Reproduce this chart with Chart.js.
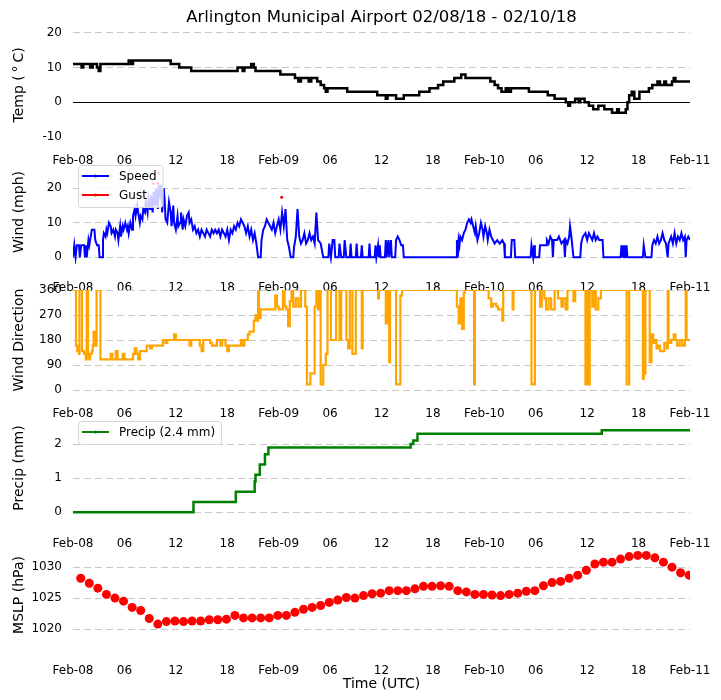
<!DOCTYPE html>
<html>
<head>
<meta charset="utf-8">
<script src="https://cdn.jsdelivr.net/npm/chart.js@4.4.1/dist/chart.umd.min.js"></script>
<style>
  body { margin: 0; background: #fff; width: 721px; height: 700px; overflow: hidden; position: relative; }
  canvas { position: absolute; left: 0; }
</style>
</head>
<body>
<canvas id="tempChart" width="721" height="165" style="top:0px"></canvas>
<canvas id="windChart" width="721" height="152" style="top:140px"></canvas>
<canvas id="dirChart" width="721" height="148" style="top:270px"></canvas>
<canvas id="precipChart" width="721" height="152" style="top:396px"></canvas>
<canvas id="mslpChart" width="721" height="174" style="top:523px"></canvas>
<script>
// x axis: hours since Feb-08 00 UTC
const tickHours = [0, 6, 12, 18, 24, 30, 36, 42, 48, 54, 60, 66, 72];
const tickLabels = ['Feb-08', '06', '12', '18', 'Feb-09', '06', '12', '18', 'Feb-10', '06', '12', '18', 'Feb-11'];

const titleText = 'Arlington Municipal Airport 02/08/18 - 02/10/18';

// temperature (deg C), value holds from each hour until the next one
const tempHours = [0, 1.0, 1.2, 2.0, 2.3, 2.8, 3.0, 3.2, 6.5, 6.8,
  7.0, 11.4, 12.4, 13.8, 19.2, 19.8, 20.0, 20.8, 21.1, 21.3,
  24.2, 25.9, 26.3, 26.6, 27.5, 27.8, 28.5, 28.9, 29.3, 29.5,
  29.7, 32.0, 35.5, 36.5, 36.7, 37.7, 38.6, 40.4, 41.6, 42.6,
  43.2, 44.5, 45.3, 45.8, 48.7, 49.2, 49.6, 50.0, 50.5, 50.8,
  51.1, 53.2, 55.4, 56.2, 57.5, 57.8, 58.0, 58.6, 59.0, 59.2,
  59.7, 60.2, 60.7, 61.3, 62.0, 62.9, 63.5, 63.7, 64.5, 64.7,
  64.9, 65.2, 65.5, 66.1, 67.2, 67.6, 68.2, 68.5, 69.0, 69.2,
  69.9, 70.1, 70.3, 72];
const tempValues = [11, 10, 11, 10, 11, 10, 9, 11, 12, 11,
  12, 11, 10, 9, 10, 9, 10, 11, 10, 9,
  8, 7, 6, 7, 6, 7, 6, 5, 4, 3,
  4, 3, 2, 1, 2, 1, 2, 3, 4, 5,
  6, 7, 8, 7, 6, 5, 4, 3, 4, 3,
  4, 3, 2, 1, 0, -1, 0, 1, 0, 1,
  0, -1, -2, -1, -2, -3, -2, -3, -2, 0,
  2, 3, 1, 3, 4, 5, 6, 5, 6, 5,
  6, 7, 6, 6];

// wind speed (mph)
const windHours = [0.0, 0.15, 0.3, 0.45, 0.7, 0.8, 0.95, 1.3, 1.4, 1.5,
  1.6, 1.8, 1.9, 2.0, 2.2, 2.5, 2.6, 2.8, 3.0, 3.1,
  3.4, 3.5, 3.6, 3.8, 3.9, 4.0, 4.2, 4.4, 4.5, 4.7,
  4.9, 5.0, 5.2, 5.3, 5.5, 5.6, 5.8, 5.9, 6.1, 6.3,
  6.4, 6.5, 6.7, 6.9, 7.0, 7.2, 7.3, 7.5, 7.6, 7.8,
  7.9, 8.1, 8.2, 8.4, 8.5, 8.7, 8.8, 9.0, 9.1, 9.3,
  9.4, 9.6, 9.7, 9.9, 10.0, 10.1, 10.3, 10.4, 10.6, 10.7,
  10.8, 11.0, 11.2, 11.4, 11.5, 11.7, 11.8, 12.0, 12.2, 12.3,
  12.5, 12.6, 12.8, 12.9, 13.1, 13.3, 13.5, 13.6, 13.8, 14.0,
  14.2, 14.4, 14.6, 14.8, 15.0, 15.2, 15.4, 15.6, 15.8, 16.0,
  16.2, 16.4, 16.6, 16.8, 17.0, 17.2, 17.4, 17.6, 17.8, 18.0,
  18.2, 18.4, 18.6, 18.8, 19.0, 19.2, 19.4, 19.6, 19.8, 20.0,
  20.2, 20.4, 20.6, 20.8, 21.0, 21.2, 21.4, 21.6, 21.9, 22.0,
  22.2, 22.4, 22.6, 22.8, 23.0, 23.2, 23.4, 23.6, 23.8, 24.0,
  24.2, 24.4, 24.6, 24.8, 25.0, 25.2, 25.4, 25.7, 25.8, 26.0,
  26.2, 26.4, 26.6, 26.8, 27.0, 27.2, 27.4, 27.6, 27.8, 28.0,
  28.2, 28.4, 28.6, 28.9, 29.2, 29.8, 29.9, 30.1, 30.3, 30.5,
  30.6, 31.0, 31.1, 31.3, 31.6, 31.7, 31.9, 32.3, 32.4, 32.5,
  33.0, 33.1, 33.2, 33.6, 33.7, 33.8, 34.5, 34.6, 34.7, 35.2,
  35.3, 35.4, 35.6, 35.7, 35.8, 35.9, 36.4, 36.5, 36.6, 36.8,
  36.9, 37.1, 37.2, 37.6, 37.7, 37.9, 38.1, 38.3, 38.5, 38.6,
  44.7, 44.8, 44.9, 45.0, 45.1, 45.2, 45.4, 45.6, 45.8, 46.0,
  46.2, 46.4, 46.5, 46.7, 46.9, 47.0, 47.2, 47.4, 47.6, 47.8,
  47.9, 48.1, 48.3, 48.4, 48.6, 48.8, 49.0, 49.2, 49.5, 49.8,
  50.1, 50.3, 50.4, 51.1, 51.2, 51.5, 51.6, 53.4, 53.5, 53.7,
  53.8, 53.9, 54.4, 54.5, 55.2, 55.3, 55.5, 55.7, 55.9, 56.0,
  56.1, 56.5, 56.7, 57.0, 57.3, 57.4, 57.5, 57.7, 57.9, 58.0,
  58.2, 58.4, 59.2, 59.3, 59.5, 59.8, 60.0, 60.2, 60.4, 60.6,
  60.8, 61.0, 61.2, 61.4, 61.8, 61.9, 63.9, 64.0, 64.1, 64.2,
  64.3, 64.4, 64.5, 64.6, 64.7, 66.5, 66.6, 66.8, 67.5, 67.6,
  67.8, 68.0, 68.2, 68.4, 68.6, 68.8, 69.0, 69.2, 69.4, 69.5,
  69.8, 70.0, 70.2, 70.4, 70.6, 70.8, 71.0, 71.2, 71.4, 71.5,
  71.6, 71.8, 72.0];
const windSpeed = [0, 3.5, 0, 3.5, 3.5, 0, 3.5, 3.5, 0, 3.5,
  0, 5, 3.5, 5, 8, 8, 5, 3.5, 3.5, 0,
  0, 5, 7, 6, 8, 7, 10, 9, 7, 8,
  6, 8, 7, 5, 9, 6, 9, 8, 10, 8,
  9, 7, 10, 8, 12, 14, 12, 15, 13, 10,
  12, 11, 14, 13, 16, 13, 17, 14, 18, 13,
  19, 15, 20, 14, 21, 17, 21, 13, 20, 16,
  11, 10, 16, 13, 9, 15, 10, 8, 12, 9,
  10, 13, 8, 11, 9, 12, 13, 10, 11, 8,
  9, 7, 8, 6, 8, 7, 6, 8, 7, 6,
  8, 7, 8, 7, 8, 6, 8, 7, 6, 8,
  5, 8, 7, 9, 8, 10, 9, 11, 10, 9,
  7, 9, 6, 8, 5, 7, 4, 0, 0, 5,
  8, 9, 11, 10, 9, 8, 10, 7, 9, 11,
  8, 13, 9, 14, 5, 3, 0, 0, 3, 6,
  14, 6, 4, 5, 7, 4, 5, 7, 5, 6,
  4, 13, 5, 4, 0, 0, 4, 0, 5, 5,
  0, 0, 4, 0, 0, 5, 0, 0, 4, 0,
  0, 4, 0, 0, 3.5, 0, 0, 4, 0, 0,
  3.5, 0, 3.5, 0, 3.5, 0, 0, 5, 0, 5,
  0, 5, 0, 0, 5, 6, 5, 3.5, 3.5, 0,
  0, 5, 0, 5, 3.5, 6, 5, 7, 8, 10,
  11, 10, 11, 9, 7, 9, 5, 7, 10, 8,
  6, 9, 7, 5, 8, 6, 5, 4, 5, 4,
  5, 4, 0, 0, 5, 5, 0, 0, 3.5, 0,
  3.5, 0, 0, 3.5, 3.5, 5, 4, 6, 5, 0,
  5, 5, 6, 4, 5, 0, 5, 4, 6, 9,
  5, 0, 0, 4, 6, 7, 5, 7, 6, 5,
  7, 5, 6, 5, 5, 0, 0, 3.5, 0, 3.5,
  0, 3.5, 0, 3.5, 0, 0, 3.5, 0, 0, 3.5,
  5, 4, 6, 4, 5, 7, 5, 4, 0, 4,
  6, 4, 7, 4, 6, 5, 7, 5, 6, 0,
  5, 6, 5];

// wind gusts (mph)
const gustHours = [9.37, 9.88, 10.0, 24.35];
const gustSpeed = [21.4, 21.4, 24.3, 17.4];

// wind direction (degrees)
const dirHours = [0.0, 0.3, 0.35, 0.5, 0.7, 0.75, 1.0, 1.05, 1.3, 1.5,
  1.6, 1.7, 1.75, 1.9, 2.0, 2.2, 2.3, 2.4, 2.5, 2.6,
  2.75, 3.1, 3.2, 4.3, 4.4, 4.6, 5.0, 5.2, 5.8, 6.0,
  6.8, 7.0, 7.2, 7.4, 7.6, 7.8, 8.4, 8.6, 9.0, 9.2,
  10.4, 10.5, 10.8, 11.0, 11.6, 11.8, 12.0, 13.4, 13.6, 13.8,
  14.6, 14.8, 15.0, 15.2, 16.0, 16.2, 16.8, 17.2, 17.4, 17.8,
  18.0, 18.2, 19.4, 19.6, 19.8, 20.0, 20.2, 20.4, 20.6, 21.0,
  21.1, 21.3, 21.5, 21.6, 21.7, 21.9, 23.4, 23.6, 23.8, 24.0,
  24.3, 24.5, 24.7, 24.9, 25.1, 25.3, 25.5, 25.7, 26.0, 26.3,
  26.6, 27.0, 27.1, 27.3, 27.6, 27.7, 28.0, 28.2, 28.4, 28.6,
  28.8, 28.9, 29.1, 29.2, 29.5, 29.7, 30.0, 30.1, 30.6, 30.7,
  31.0, 31.1, 31.3, 31.8, 31.9, 32.1, 32.3, 32.5, 32.6, 32.9,
  33.0, 33.6, 33.7, 33.8, 35.5, 35.6, 35.7, 36.4, 36.5, 36.7,
  36.9, 37.0, 37.6, 37.7, 38.1, 38.2, 38.4, 44.7, 44.8, 45.0,
  45.2, 45.4, 45.6, 45.7, 46.7, 46.8, 46.9, 48.4, 48.5, 48.8,
  49.0, 49.4, 49.6, 49.9, 50.1, 50.2, 51.2, 51.3, 51.4, 53.4,
  53.5, 53.8, 53.9, 54.4, 54.5, 54.7, 55.0, 55.2, 55.5, 55.8,
  56.0, 56.2, 56.6, 57.0, 57.2, 57.5, 57.7, 58.2, 58.4, 58.6,
  59.6, 59.8, 60.0, 60.1, 60.3, 60.6, 60.8, 61.0, 61.3, 61.6,
  64.5, 64.6, 64.8, 64.9, 66.4, 66.5, 66.6, 66.7, 66.8, 67.2,
  67.3, 67.5, 67.7, 67.9, 68.1, 68.3, 68.5, 68.8, 69.0, 69.3,
  69.4, 69.5, 69.8, 70.1, 70.3, 70.5, 70.8, 71.1, 71.4, 71.5,
  71.6, 72.0];
const dirValues = [360, 360, 160, 140, 130, 360, 360, 140, 130, 110,
  360, 360, 120, 110, 130, 140, 160, 210, 180, 160,
  360, 360, 110, 110, 130, 110, 140, 110, 130, 110,
  110, 130, 150, 130, 110, 140, 140, 160, 150, 160,
  160, 180, 170, 180, 180, 200, 180, 180, 160, 180,
  180, 160, 140, 180, 170, 160, 180, 160, 180, 160,
  140, 160, 160, 180, 160, 180, 180, 200, 210, 210,
  250, 270, 250, 360, 260, 290, 290, 340, 300, 290,
  290, 360, 300, 290, 230, 320, 360, 300, 330, 300,
  360, 360, 300, 20, 20, 60, 60, 300, 360, 290,
  360, 20, 20, 90, 130, 360, 360, 180, 180, 360,
  360, 180, 360, 360, 180, 150, 360, 360, 130, 130,
  360, 360, 150, 360, 360, 330, 360, 360, 240, 360,
  100, 360, 360, 20, 20, 340, 360, 360, 300, 240,
  330, 220, 350, 360, 360, 20, 360, 360, 330, 300,
  310, 300, 290, 290, 250, 360, 360, 290, 360, 360,
  20, 20, 360, 360, 300, 360, 330, 290, 330, 290,
  290, 360, 330, 300, 330, 290, 360, 360, 320, 360,
  360, 20, 360, 20, 360, 300, 360, 290, 330, 360,
  360, 20, 20, 360, 360, 40, 360, 60, 360, 360,
  100, 200, 170, 180, 150, 160, 140, 140, 170, 150,
  360, 170, 180, 200, 180, 160, 180, 160, 180, 360,
  180, 180];

// accumulated precipitation (mm)
const precipHours = [0, 14.06, 19.0, 21.2, 21.3, 21.8, 22.4, 22.8, 39.4, 39.7, 40.2, 61.7, 72];
const precipValues = [0, 0.3, 0.6, 0.9, 1.1, 1.4, 1.7, 1.9, 2.0, 2.1, 2.3, 2.4, 2.4];

// hourly mean sea level pressure (hPa)
const mslpHours = [0.9, 1.9, 2.9, 3.9, 4.9, 5.9, 6.9, 7.9, 8.9, 9.9,
  10.9, 11.9, 12.9, 13.9, 14.9, 15.9, 16.9, 17.9, 18.9, 19.9,
  20.9, 21.9, 22.9, 23.9, 24.9, 25.9, 26.9, 27.9, 28.9, 29.9,
  30.9, 31.9, 32.9, 33.9, 34.9, 35.9, 36.9, 37.9, 38.9, 39.9,
  40.9, 41.9, 42.9, 43.9, 44.9, 45.9, 46.9, 47.9, 48.9, 49.9,
  50.9, 51.9, 52.9, 53.9, 54.9, 55.9, 56.9, 57.9, 58.9, 59.9,
  60.9, 61.9, 62.9, 63.9, 64.9, 65.9, 66.9, 67.9, 68.9, 69.9,
  70.9, 71.9];
const mslpValues = [1028.2, 1027.4, 1026.6, 1025.6, 1025.0, 1024.5, 1023.5, 1023.0, 1021.7, 1020.8,
  1021.2, 1021.3, 1021.2, 1021.3, 1021.3, 1021.5, 1021.5, 1021.6, 1022.2, 1021.8,
  1021.8, 1021.8, 1021.8, 1022.2, 1022.2, 1022.7, 1023.2, 1023.5, 1023.8, 1024.3,
  1024.7, 1025.1, 1025.0, 1025.4, 1025.7, 1025.8, 1026.2, 1026.2, 1026.2, 1026.5,
  1026.9, 1026.9, 1027.0, 1026.9, 1026.2, 1026.0, 1025.6, 1025.6, 1025.5, 1025.4,
  1025.6, 1025.8, 1026.1, 1026.2, 1027.0, 1027.5, 1027.7, 1028.2, 1028.7, 1029.5,
  1030.5, 1030.8, 1030.8, 1031.3, 1031.7, 1031.9, 1031.9, 1031.5, 1030.8, 1030.0,
  1029.1, 1028.7];

Chart.defaults.font.family = '"DejaVu Sans", sans-serif';
Chart.defaults.font.size = 12;
Chart.defaults.color = '#000';

function points(hours, values) {
  return hours.map((h, i) => ({ x: h, y: values[i] }));
}

// matplotlib-like legend box, drawn over the data
const boxLegend = {
  id: 'boxLegend',
  afterDatasetsDraw(chart, args, opts) {
    if (!opts.items) return;
    const ctx = chart.ctx;
    const area = chart.chartArea;
    ctx.save();
    ctx.font = '12px "DejaVu Sans"';
    const textW = Math.max(...opts.items.map(it => ctx.measureText(it.text).width));
    const x = area.left + 5;
    const y = area.top + 5;
    const w = 41 + textW + 6;
    const h = opts.items.length * 19 + 4;
    ctx.beginPath();
    if (ctx.roundRect) ctx.roundRect(x + 0.5, y + 0.5, w, h, 3);
    else ctx.rect(x + 0.5, y + 0.5, w, h);
    ctx.fillStyle = 'rgba(255,255,255,0.8)';
    ctx.fill();
    ctx.strokeStyle = '#d6d6d6';
    ctx.lineWidth = 1;
    ctx.stroke();
    opts.items.forEach((it, i) => {
      const ry = y + 11 + i * 19;
      ctx.strokeStyle = it.color;
      ctx.lineWidth = 2;
      ctx.beginPath();
      ctx.moveTo(x + 4, ry);
      ctx.lineTo(x + 31, ry);
      ctx.stroke();
      ctx.fillStyle = it.color;
      ctx.beginPath();
      ctx.arc(x + 17.5, ry, 1.5, 0, Math.PI * 2);
      ctx.fill();
      ctx.fillStyle = '#000';
      ctx.textBaseline = 'middle';
      ctx.fillText(it.text, x + 41, ry + 1);
    });
    ctx.restore();
  }
};

// solid line at 0 deg C
const zeroLine = {
  id: 'zeroLine',
  beforeDatasetsDraw(chart) {
    const ctx = chart.ctx;
    const area = chart.chartArea;
    const y = Math.round(chart.scales.y.getPixelForValue(0)) + 0.5;
    ctx.save();
    ctx.strokeStyle = '#000';
    ctx.lineWidth = 1;
    ctx.beginPath();
    ctx.moveTo(area.left, y);
    ctx.lineTo(area.right, y);
    ctx.stroke();
    ctx.restore();
  }
};

function panelOptions(p) {
  return {
    responsive: false,
    animation: false,
    events: [],
    layout: { padding: { top: p.padTop, left: 0, right: 31, bottom: 0 } },
    plugins: {
      legend: { display: false },
      tooltip: { enabled: false },
      title: p.title || { display: false },
      boxLegend: { items: p.legend || null },
    },
    scales: {
      x: {
        type: 'linear',
        min: 0,
        max: 72,
        grid: { display: false },
        border: { display: false },
        afterBuildTicks: s => { s.ticks = tickHours.map(v => ({ value: v })); },
        afterFit: s => { s.height = p.axisH; },
        ticks: {
          autoSkip: false,
          maxRotation: 0,
          minRotation: 0,
          padding: 9,
          callback: v => tickLabels[tickHours.indexOf(v)],
        },
        title: p.xTitle
          ? { display: true, text: p.xTitle, font: { size: 14 }, padding: { top: 0, bottom: 4 } }
          : { display: false },
      },
      y: {
        min: p.min,
        max: p.max,
        afterFit: s => { s.width = 73; },
        grid: { color: p.gridColor || '#c8c8c8', drawTicks: false },
        border: { display: false, dash: [7, 4] },
        ticks: { stepSize: p.step, padding: 11, includeBounds: false, callback: v => String(v) },
        title: { display: true, text: p.yTitle, font: { size: 14 }, padding: { top: 11, bottom: 0 } },
      },
    },
  };
}

window.onload = function() {
  new Chart(document.getElementById('tempChart'), {
    type: 'line',
    data: {
      datasets: [{
        data: points(tempHours, tempValues),
        borderColor: '#000',
        borderWidth: 2.5,
        pointRadius: 0,
        stepped: true,
      }],
    },
    options: panelOptions({
      padTop: 0, axisH: 28, min: -10, max: 20, step: 10,
      yTitle: 'Temp (\u2009°\u2009C)',
      gridColor: ctx => (ctx.tick && ctx.tick.value === -10 ? 'rgba(0,0,0,0)' : '#c8c8c8'),
      title: {
        display: true, text: titleText, fullSize: false, color: '#000',
        font: { size: 16.5, weight: 'normal' }, padding: { top: 8, bottom: 5 },
      },
    }),
    plugins: [zeroLine],
  });

  new Chart(document.getElementById('windChart'), {
    type: 'line',
    data: {
      datasets: [
        {
          data: points(windHours, windSpeed),
          borderColor: '#0000ff',
          borderWidth: 2,
          pointRadius: 0,
        },
        {
          data: points(gustHours, gustSpeed),
          showLine: false,
          pointRadius: 1.5,
          pointBorderWidth: 0,
          pointBackgroundColor: '#ff0000',
        },
      ],
    },
    options: panelOptions({
      padTop: 20, axisH: 28, min: -1.94, max: 28.2, step: 10,
      yTitle: 'Wind (mph)',
      legend: [{ text: 'Speed', color: '#0000ff' }, { text: 'Gust', color: '#ff0000' }],
    }),
    plugins: [boxLegend],
  });

  new Chart(document.getElementById('dirChart'), {
    type: 'line',
    data: {
      datasets: [{
        data: points(dirHours, dirValues),
        borderColor: '#ffa500',
        borderWidth: 2.2,
        pointRadius: 0,
        stepped: true,
      }],
    },
    options: panelOptions({
      padTop: 20, axisH: 28, min: 0, max: 360, step: 90,
      yTitle: 'Wind Direction',
    }),
  });

  new Chart(document.getElementById('precipChart'), {
    type: 'line',
    data: {
      datasets: [{
        data: points(precipHours, precipValues),
        borderColor: '#008000',
        borderWidth: 2.5,
        pointRadius: 0,
        stepped: true,
      }],
    },
    options: panelOptions({
      padTop: 20, axisH: 28, min: -0.225, max: 2.82, step: 1,
      yTitle: 'Precip (mm)',
      legend: [{ text: 'Precip (2.4 mm)', color: '#008000' }],
    }),
    plugins: [boxLegend],
  });

  new Chart(document.getElementById('mslpChart'), {
    type: 'line',
    data: {
      datasets: [{
        data: points(mslpHours, mslpValues),
        showLine: false,
        pointRadius: 4.5,
        pointBorderWidth: 0,
        pointBackgroundColor: '#ff0000',
      }],
    },
    options: panelOptions({
      padTop: 20, axisH: 50, min: 1017.1, max: 1033.9, step: 5,
      yTitle: 'MSLP (hPa)',
      xTitle: 'Time (UTC)',
    }),
  });
};
</script>
</body>
</html>
